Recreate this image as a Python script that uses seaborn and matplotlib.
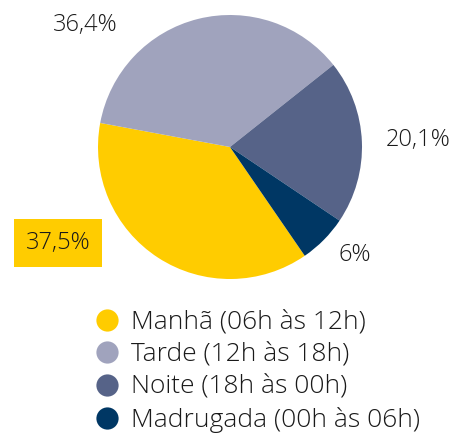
import matplotlib.pyplot as plt
import seaborn as sns
from matplotlib.lines import Line2D

# Dados
periodos = ['Manhã (06h às 12h)', 'Tarde (12h às 18h)', 'Noite (18h às 00h)', 'Madrugada (00h às 06h)']
valores = [37.5, 36.4, 20.1, 6]
rotulos = ['37,5%', '36,4%', '20,1%', '6%']
cores = ['#FFCC00', '#A0A3BD', '#566388', '#003764']

sns.set_style('white')
plt.rcParams['font.family'] = ['Open Sans', 'DejaVu Sans']

fig = plt.figure(figsize=(4.56, 4.37), dpi=100)
ax = fig.add_axes([98 / 456, 158 / 437, 264 / 456, 264 / 437])
ax.pie(valores, colors=cores, startangle=304.5, counterclock=False,
       wedgeprops={'linewidth': 0})
ax.set_xlim(-1, 1)
ax.set_ylim(-1, 1)
ax.set_aspect('equal')
ax.axis('off')

# Rótulos de percentagem
fs = 17
cor_txt = '#1a1a1a'
fig.text(58 / 456, 1 - 243 / 437, rotulos[0], fontsize=fs, ha='center', va='center', color=cor_txt,
         fontweight='light', bbox=dict(boxstyle='square,pad=0.5', fc='#FFCC00', ec='none'))
fig.text(85 / 456, 1 - 25 / 437, rotulos[1], fontsize=fs, ha='center', va='center', color=cor_txt,
         fontweight='light')
fig.text(418 / 456, 1 - 140 / 437, rotulos[2], fontsize=fs, ha='center', va='center', color=cor_txt,
         fontweight='light')
fig.text(355 / 456, 1 - 255 / 437, rotulos[3], fontsize=fs, ha='center', va='center', color=cor_txt,
         fontweight='light')

# Legenda
handles = [Line2D([], [], marker='o', linestyle='none', markersize=16,
                  markerfacecolor=c, markeredgecolor='none') for c in cores]
leg = fig.legend(handles, periodos, loc='upper left', bbox_to_anchor=(80 / 456, 1 - 297 / 437),
                 frameon=False, fontsize=19, handletextpad=0.4, labelspacing=0.28,
                 borderpad=0, handlelength=1.05)
for t in leg.get_texts():
    t.set_color(cor_txt)
    t.set_fontweight('light')

fig.savefig('out.png', dpi=100)
